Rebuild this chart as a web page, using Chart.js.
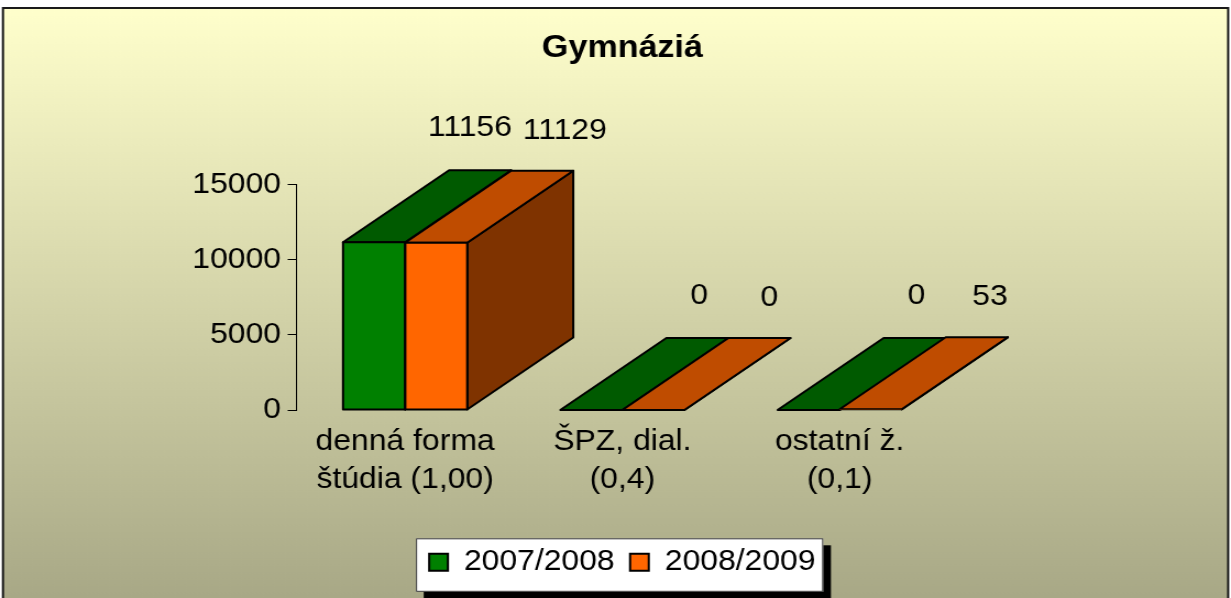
<!DOCTYPE html>
<html><head><meta charset="utf-8">
<script src="https://cdn.jsdelivr.net/npm/chart.js@4/dist/chart.umd.min.js"></script>
<style>
html,body{margin:0;padding:0;background:#fff;overflow:hidden;width:1231px;height:598px;}
#wrap{position:absolute;left:0;top:0;width:1119px;height:598px;transform:scaleX(1.10009);transform-origin:0 0;}
</style></head><body>
<div id="wrap"><canvas id="c"></canvas></div>
<script>
// ---- data ----
const chartTitle = 'Gymnáziá';
const categories = [['denná forma', 'štúdia (1,00)'], ['ŠPZ, dial.', '(0,4)'], ['ostatní ž.', '(0,1)']];
const seriesNames = ['2007/2008', '2008/2009'];
const values0708 = [11156, 0, 0];
const values0809 = [11129, 0, 53];
const yTicks = [0, 5000, 10000, 15000];

// ---- style ----
const FONT = "'Liberation Sans', Arial, Helvetica, sans-serif";
const frontColors = ['#008000', '#FF6600'];
const topColors = ['#005A00', '#BF4C00'];
const sideColors = ['#004000', '#7F3300'];
const DX = 96.4, DY = -72;          // 3D depth offset (pixels)
const labelShiftY = [-42, -40];

function poly(ctx, pts, fill) {
  ctx.beginPath();
  ctx.moveTo(pts[0][0], pts[0][1]);
  for (let i = 1; i < pts.length; i++) ctx.lineTo(pts[i][0], pts[i][1]);
  ctx.closePath();
  ctx.fillStyle = fill; ctx.fill();
  ctx.stroke();
}

const bgPlugin = {
  id: 'bg',
  beforeDraw(chart) {
    const ctx = chart.ctx, W = chart.width, H = chart.height;
    ctx.save();
    ctx.fillStyle = '#fff'; ctx.fillRect(0, 0, W, H);
    const x0 = 2.7, y0 = 8, x1 = 1116.4;
    const g = ctx.createLinearGradient(0, y0, 0, H);
    g.addColorStop(0, '#FFFFCC'); g.addColorStop(1, '#A8A886');
    ctx.fillStyle = g; ctx.fillRect(x0, y0, x1 - x0, H - y0 + 2);
    ctx.strokeStyle = '#1a1a1a'; ctx.lineWidth = 2;
    ctx.strokeRect(x0, y0, x1 - x0, H + 20);
    const lg = chart.legend;
    if (lg && lg.legendHitBoxes && lg.legendHitBoxes.length) {
      const hb = lg.legendHitBoxes;
      const last = hb[hb.length - 1];
      const l = hb[0].left - 12, r = last.left + last.width + 7;
      const mid = hb[0].top + hb[0].height / 2;
      const t = mid - 24, b = mid + 29.5;
      ctx.fillStyle = '#000'; ctx.fillRect(l + 7, t + 7, r - l, b - t);
      ctx.fillStyle = '#fff'; ctx.fillRect(l, t, r - l, b - t);
      ctx.strokeStyle = '#333'; ctx.lineWidth = 1; ctx.strokeRect(l + 0.5, t + 0.5, r - l - 1, b - t - 1);
    }
    ctx.restore();
  }
};

const facesPlugin = {
  id: 'faces',
  beforeDatasetsDraw(chart) {
    const ctx = chart.ctx;
    ctx.save(); ctx.lineWidth = 2; ctx.lineJoin = 'round'; ctx.strokeStyle = '#000';
    chart.data.datasets.forEach((ds, di) => {
      chart.getDatasetMeta(di).data.forEach(bar => {
        const p = bar.getProps(['x', 'y', 'base', 'width'], true);
        const L = p.x - p.width / 2, R = p.x + p.width / 2;
        poly(ctx, [[R, p.y], [R + DX, p.y + DY], [R + DX, p.base + DY], [R, p.base]], sideColors[di]);
        poly(ctx, [[L, p.y], [R, p.y], [R + DX, p.y + DY], [L + DX, p.y + DY]], topColors[di]);
      });
    });
    ctx.restore();
  },
  afterDatasetsDraw(chart) {
    const ctx = chart.ctx;
    ctx.save(); ctx.lineWidth = 2; ctx.lineJoin = 'round'; ctx.strokeStyle = '#000';
    chart.data.datasets.forEach((ds, di) => {
      chart.getDatasetMeta(di).data.forEach((bar, i) => {
        const p = bar.getProps(['x', 'y', 'base', 'width'], true);
        const L = p.x - p.width / 2;
        if (p.base - p.y > 0.5) ctx.strokeRect(L, p.y, p.width, p.base - p.y);
      });
    });
    ctx.fillStyle = '#000'; ctx.font = '29px ' + FONT;
    ctx.textAlign = 'center'; ctx.textBaseline = 'middle';
    chart.data.datasets.forEach((ds, di) => {
      chart.getDatasetMeta(di).data.forEach((bar, i) => {
        const p = bar.getProps(['x', 'y'], true);
        const txt = String(ds.data[i]);
        const w = ctx.measureText(txt).width;
        // spread labels of the two series apart (wider labels move further)
        const shift = di === 0 ? (4.5 - 0.18 * w) : (6 + 0.19 * w);
        ctx.fillText(txt, p.x + DX + shift, p.y + DY + labelShiftY[di]);
      });
    });
    ctx.restore();
  }
};

new Chart(document.getElementById('c'), {
  type: 'bar',
  data: {
    labels: categories,
    datasets: [
      { label: seriesNames[0], data: values0708, backgroundColor: frontColors[0], borderColor: '#000', borderWidth: 0 },
      { label: seriesNames[1], data: values0809, backgroundColor: frontColors[1], borderColor: '#000', borderWidth: 0 }
    ]
  },
  options: {
    responsive: true, maintainAspectRatio: false, animation: false, devicePixelRatio: 1,
    events: [],
    categoryPercentage: 4 / 7, barPercentage: 1,
    layout: { padding: { left: 0, right: 257, top: 0, bottom: 11.2 } },
    scales: {
      x: {
        offset: true,
        grid: { display: false, drawTicks: false },
        border: { display: false },
        ticks: { font: { family: FONT, size: 29, lineHeight: 1.32 }, color: '#000', padding: 13, maxRotation: 0, minRotation: 0, autoSkip: false },
        afterFit: s => { s.height = 123.8; }
      },
      y: {
        min: 0, max: 15000,
        afterBuildTicks: s => { s.ticks = yTicks.map(v => ({ value: v })); },
        ticks: { font: { family: FONT, size: 29 }, color: '#000', padding: 6, callback: v => String(v) },
        grid: { drawOnChartArea: false, drawTicks: true, tickLength: 8, color: '#000', lineWidth: 1 },
        border: { display: true, color: '#000', width: 1 },
        afterFit: s => { s.width = 269.5; }
      }
    },
    plugins: {
      tooltip: { enabled: false },
      title: {
        display: true, fullSize: false, text: chartTitle, color: '#000',
        font: { family: FONT, size: 31, weight: 'bold', lineHeight: 1.2 },
        padding: { top: 30.2, bottom: 117.1 }
      },
      legend: {
        position: 'bottom', align: 'center', fullSize: false,
        labels: {
          font: { family: FONT, size: 29 }, color: '#000', boxWidth: 17, boxHeight: 17, padding: 14,
          generateLabels: chart => Chart.defaults.plugins.legend.labels.generateLabels(chart)
            .map(it => Object.assign(it, { lineWidth: 2, strokeStyle: '#000' }))
        }
      }
    }
  },
  plugins: [bgPlugin, facesPlugin]
});
</script>
</body></html>
